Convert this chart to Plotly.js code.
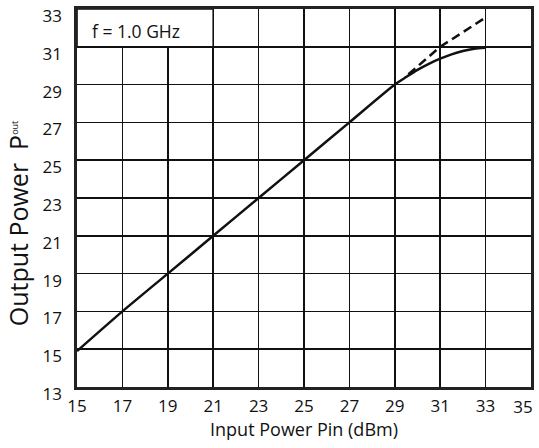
<!DOCTYPE html>
<html>
<head>
<meta charset="utf-8">
<script src="https://cdn.plot.ly/plotly-3.0.1.min.js"></script>
<style>html,body{margin:0;padding:0;background:#fff;}#chart{width:539px;height:448px;}</style>
</head>
<body>
<div id="chart"></div>
<script>
// Measured output power (solid curve)
const pinMeasured = [15, 17, 19, 21, 23, 25, 27, 29, 29.5, 30, 30.5, 31, 31.5, 32, 32.5, 33];
const poutMeasured = [14.9, 17, 19, 21, 23, 25, 27, 29, 29.4, 29.78, 30.1, 30.37, 30.6, 30.78, 30.9, 30.95];
// Linear extrapolation (dashed)
const pinLinear = [29.6, 31, 33];
const poutLinear = [29.55, 31.0, 32.55];
// Axis ticks
const xTicks = [15, 17, 19, 21, 23, 25, 27, 29, 31, 33, 35];
const yTicks = [13, 15, 17, 19, 21, 23, 25, 27, 29, 31, 33];
const annotationText = 'f = 1.0 GHz';

const FONT = '"Open Sans", "Noto Sans", sans-serif';
const NB = '\u00a0';

const traces = [
  {x: pinMeasured, y: poutMeasured, xaxis: 'x', yaxis: 'y', mode: 'lines', line: {color: '#111', width: 2.5, shape: 'spline', smoothing: 0.6}, showlegend: false},
  {x: pinLinear, y: poutLinear, xaxis: 'x2', yaxis: 'y', mode: 'lines', line: {color: '#111', width: 2.5, dash: '9px,5px'}, showlegend: false}
];

const mainXTicks = xTicks.slice(0, -1);
const lastXTick = xTicks.slice(-1);
const X_RANGE = [14.999, 35.001];

const layout = {
  width: 539, height: 448,
  margin: {l: 77, r: 8, t: 9, b: 61},
  paper_bgcolor: '#fff', plot_bgcolor: '#fff',
  font: {family: FONT, size: 16, color: '#111'},
  showlegend: false,
  xaxis: {
    range: X_RANGE, tickvals: mainXTicks, ticktext: mainXTicks.map(String),
    showgrid: true, gridcolor: '#111', gridwidth: 1.6,
    showline: true, linecolor: '#222', linewidth: 2.6, mirror: true,
    ticks: '', ticklabelstandoff: 2, zeroline: false, ticklabeloverflow: 'allow',
    tickfont: {family: FONT, size: 17, color: '#111'},
    title: {text: 'Input Power Pin (dBm)', font: {family: FONT, size: 18, color: '#111'}, standoff: 5}
  },
  // same scale as x; carries only the last label, which sits a little inside the frame in the reference
  xaxis2: {
    overlaying: 'x', anchor: 'y', side: 'bottom',
    range: X_RANGE, tickvals: lastXTick, ticktext: lastXTick.map(String),
    showgrid: false, showline: false, zeroline: false, ticks: '',
    ticklabelstandoff: 8, ticklabelshift: -8, ticklabeloverflow: 'allow',
    tickfont: {family: FONT, size: 17, color: '#111'}
  },
  yaxis: {
    range: [12.999, 33.001], tickvals: yTicks, ticktext: yTicks.map(String),
    showgrid: true, gridcolor: '#111', gridwidth: 1.6,
    showline: true, linecolor: '#222', linewidth: 2.6, mirror: true,
    ticks: '', ticklabelstandoff: 9, ticklabelshift: 7, zeroline: false, ticklabeloverflow: 'allow',
    tickfont: {family: FONT, size: 17, color: '#111'}
  },
  shapes: [
    {type: 'rect', xref: 'x', yref: 'y', x0: 15, x1: 21, y0: 31, y1: 33,
     fillcolor: '#fff', line: {color: '#111', width: 1.6}, layer: 'between'}
  ],
  annotations: [
    {xref: 'x', yref: 'y', x: 15.55, y: 31.82, xanchor: 'left', yanchor: 'middle',
     text: annotationText, showarrow: false, font: {family: FONT, size: 17.5, color: '#111'}},
    {xref: 'paper', yref: 'paper', x: -0.128, y: 0.155, xanchor: 'center', yanchor: 'bottom',
     textangle: -90, showarrow: false,
     text: 'Output Power' + NB + NB + 'P<sup><span style="font-size:9px">out</span></sup>',
     font: {family: FONT, size: 25, color: '#111'}}
  ]
};

Plotly.newPlot('chart', traces, layout, {displayModeBar: false, staticPlot: true});
</script>
</body>
</html>
